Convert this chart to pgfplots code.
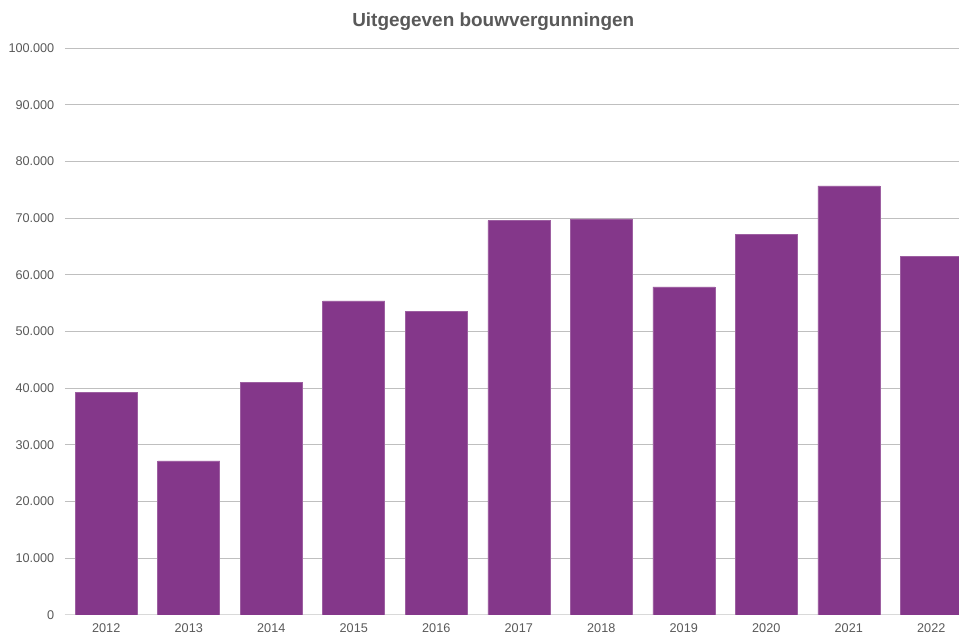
\documentclass[border=0pt]{standalone}
\usepackage{pgfplots}
\pgfplotsset{compat=1.18}
\usepackage{fontspec}
\setmainfont{Liberation Sans}
\usetikzlibrary{calc}
\definecolor{barc}{HTML}{84378A}
\definecolor{txt}{HTML}{595959}
\definecolor{grid}{HTML}{D9D9D9}
\begin{document}
\begin{tikzpicture}
\begin{axis}[
  name=ax,
  scale only axis,
  width=670.5pt, height=425pt,
  ymin=0, ymax=100000,
  xmin=-0.5, xmax=10.336,
  ytick={0,10000,20000,30000,40000,50000,60000,70000,80000,90000,100000},
  yticklabels={0,10.000,20.000,30.000,40.000,50.000,60.000,70.000,80.000,90.000,100.000},
  xtick={0,...,10},
  xticklabels={2012,2013,2014,2015,2016,2017,2018,2019,2020,2021,2022},
  ymajorgrids, xmajorgrids=false,
  major grid style={grid, line width=0.75pt},
  axis x line*=bottom,
  axis y line*=left,
  y axis line style={draw=none},
  x axis line style={grid, line width=0.75pt, -},
  major tick length=0pt,
  tick style={draw=none},
  ticklabel style={font=\fontsize{9.5pt}{11pt}\selectfont, text=txt},
  yticklabel style={anchor=east, xshift=-4.5pt},
  xticklabel style={yshift=-3pt},
  scaled y ticks=false,
  title={Uitgegeven bouwvergunningen},
  every axis title/.style={at={(rel axis cs:0.479,1)}, anchor=center, yshift=19.7pt, font=\bfseries\fontsize{14.2pt}{17pt}\selectfont, text=txt},
  clip=true,
]
\addplot[ybar, bar width=46.5pt, fill=barc, draw=barc!80!white, line width=0.4pt] coordinates {
(0,39300) (1,27200) (2,41100) (3,55400) (4,53500) (5,69600) (6,69900) (7,57900) (8,67100) (9,75700) (10,63300)
};
\end{axis}
\pgfresetboundingbox
\useasboundingbox ($(ax.south west)+(-48.75pt,-14.25pt)$) rectangle ($(ax.north east)+(0pt,36.2pt)$);
\end{tikzpicture}
\end{document}
